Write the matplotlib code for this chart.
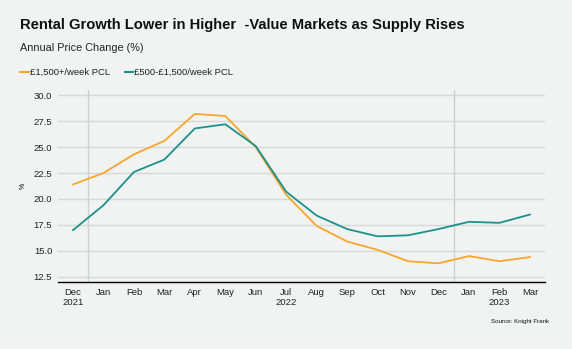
import numpy as np
import matplotlib
matplotlib.use("Agg")
import matplotlib.pyplot as plt

plt.rcParams['font.family'] = ['Liberation Sans', 'DejaVu Sans']

months = ["Dec\n2021", "Jan", "Feb", "Mar", "Apr", "May", "Jun", "Jul\n2022", "Aug",
          "Sep", "Oct", "Nov", "Dec", "Jan", "Feb\n2023", "Mar"]
pcl_high = [21.4, 22.5, 24.3, 25.6, 28.2, 28.0, 25.0, 20.4, 17.4, 15.9, 15.1, 14.0, 13.8, 14.5, 14.0, 14.4]
pcl_mid = [17.0, 19.4, 22.6, 23.8, 26.8, 27.2, 25.1, 20.7, 18.4, 17.1, 16.4, 16.5, 17.1, 17.8, 17.7, 18.5]
yticks = [12.5, 15.0, 17.5, 20.0, 22.5, 25.0, 27.5, 30.0]

bg = "#f0f3f2"
orange = "#f9a52b"
teal = "#1b918c"

fig = plt.figure(figsize=(5.72, 3.49), dpi=100, facecolor=bg)
ax = fig.add_axes([0.101, 0.192, 0.852, 0.550], facecolor=bg)

x = np.arange(len(months))
ax.plot(x, pcl_high, color=orange, lw=1.3, zorder=3)
ax.plot(x, pcl_mid, color=teal, lw=1.3, zorder=3)

ax.set_xlim(-0.5, len(months) - 0.5)
ax.set_ylim(12.0, 30.5)
ax.set_yticks(yticks)
ax.set_yticklabels([f"{v:.1f}" for v in yticks], fontsize=6.8, color="#222222")
ax.set_xticks(x)
ax.set_xticklabels(months, fontsize=6.8, color="#222222")
ax.tick_params(length=0, pad=4)
ax.grid(axis="y", color="#d6d8d7", lw=1)
ax.set_axisbelow(True)
for xv in [0.5, 12.5]:
    ax.axvline(xv, color="#cfd1d0", lw=1, zorder=1)
for s in ["top", "right", "left"]:
    ax.spines[s].set_visible(False)
ax.spines["bottom"].set_color("black")
ax.spines["bottom"].set_linewidth(1)
ax.set_ylabel("%", fontsize=5, rotation=90, labelpad=5)

fig.text(0.035, 0.928, "Rental Growth Lower in Higher  -Value Markets as Supply Rises",
         fontsize=10.6, fontweight="bold", color="#111111", va="center")
fig.text(0.035, 0.862, "Annual Price Change (%)", fontsize=7.8, color="#222222", va="center")

fig.lines.append(plt.Line2D([0.035, 0.05], [0.794, 0.794], transform=fig.transFigure, color=orange, lw=1.5))
fig.text(0.052, 0.794, "£1,500+/week PCL", fontsize=6.8, va="center", color="#222222")
fig.lines.append(plt.Line2D([0.218, 0.233], [0.794, 0.794], transform=fig.transFigure, color=teal, lw=1.5))
fig.text(0.235, 0.794, "£500-£1,500/week PCL", fontsize=6.8, va="center", color="#222222")

fig.text(0.96, 0.075, "Source: Knight Frank", fontsize=4.5, ha="right", color="#111111")

fig.savefig("out.png", dpi=100, facecolor=bg)
